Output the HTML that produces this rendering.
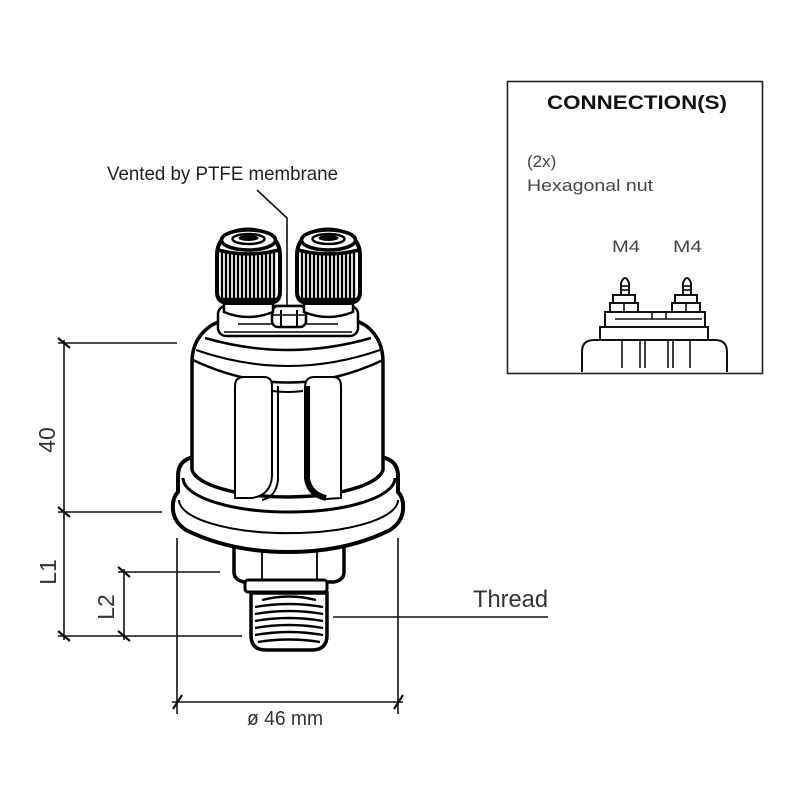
<!DOCTYPE html>
<html><head><meta charset="utf-8"><style>
html,body{margin:0;padding:0;background:#fff;}
svg{display:block;}
text{font-family:"Liberation Sans",Arial,sans-serif;}
</style></head><body>
<svg width="800" height="800" viewBox="0 0 800 800" xmlns="http://www.w3.org/2000/svg">
<rect width="800" height="800" fill="#fff"/>

<!-- Vented label -->
<text x="107" y="180" font-size="19" fill="#222" textLength="231" lengthAdjust="spacingAndGlyphs">Vented by PTFE membrane</text>

<!-- dimension lines -->
<g stroke="#111" stroke-width="1.6" fill="none">
  <line x1="64" y1="340" x2="64" y2="640"/>
  <line x1="58" y1="343" x2="177" y2="343"/>
  <line x1="58" y1="512" x2="162" y2="512"/>
  <line x1="58" y1="636" x2="242" y2="636"/>
  <line x1="124" y1="569" x2="124" y2="640"/>
  <line x1="118" y1="572" x2="220" y2="572"/>
  <line x1="177" y1="538" x2="177" y2="714"/>
  <line x1="398" y1="538" x2="398" y2="714"/>
  <line x1="172" y1="702" x2="403" y2="702"/>
  <line x1="333" y1="617" x2="548" y2="617"/>
</g>
<g stroke="#111" stroke-width="2.2">
  <line x1="58" y1="338" x2="70" y2="348"/>
  <line x1="58" y1="507" x2="70" y2="517"/>
  <line x1="58" y1="631" x2="70" y2="641"/>
  <line x1="118" y1="567" x2="130" y2="577"/>
  <line x1="118" y1="631" x2="130" y2="641"/>
  <line x1="173" y1="709" x2="182" y2="695"/>
  <line x1="394" y1="709" x2="403" y2="695"/>
</g>
<g fill="#333" font-size="23">
  <text transform="translate(55,440) rotate(-90)" text-anchor="middle">40</text>
  <text transform="translate(56,572) rotate(-90)" text-anchor="middle">L1</text>
  <text transform="translate(114,607) rotate(-90)" text-anchor="middle">L2</text>
</g>
<text x="473" y="607" font-size="24" fill="#333" textLength="75" lengthAdjust="spacingAndGlyphs">Thread</text>
<text x="247" y="725" font-size="20" fill="#333" textLength="76" lengthAdjust="spacingAndGlyphs">ø 46 mm</text>

<!-- hex -->
<path d="M234,535 L234,572 Q234,580 244,582 L334,582 Q344,580 344,572 L344,535" fill="#fff" stroke="#000" stroke-width="3.5"/>
<line x1="262" y1="540" x2="262" y2="580" stroke="#000" stroke-width="1.8"/>
<line x1="317" y1="540" x2="317" y2="580" stroke="#000" stroke-width="1.8"/>
<!-- thread -->
<path d="M251,593 L251,635 Q251,650 266,650 L312,650 Q327,650 327,635 L327,593 Z" fill="#fff" stroke="#000" stroke-width="3.5"/>
<g stroke="#000" stroke-width="2.4" fill="none">
  <path d="M262,600 Q289,593 316,600"/>
  <path d="M255,607 Q289,601 323,607"/>
  <path d="M255,614 Q289,608 323,614"/>
  <path d="M255,621 Q289,615 323,621"/>
  <path d="M255,628 Q289,622 323,628"/>
  <path d="M255,635 Q289,629 323,635"/>
  <path d="M258,642 Q289,637 320,642"/>
</g>
<!-- neck -->
<rect x="245" y="580" width="82" height="12" rx="3" fill="#fff" stroke="#000" stroke-width="3"/>

<!-- flange -->
<path d="M190,458 Q178,462 178,476 L178,492 Q172,498 173,510 Q174,522 186,530 Q230,552 288,552 Q346,552 390,530 Q402,522 403,510 Q404,498 398,492 L398,476 Q398,462 385,458 Z" fill="#fff" stroke="#000" stroke-width="4"/>
<path d="M183,478 A106,34 0 0 0 395,478" fill="none" stroke="#000" stroke-width="3"/>
<path d="M179,500 A109,33 0 0 0 398,500" fill="none" stroke="#000" stroke-width="2"/>

<!-- body -->
<path d="M192,470 L192,362 Q192,338 212,325 L222,320 L355,320 L365,325 Q383,338 383,362 L383,470 A96,30 0 0 1 192,470 Z" fill="#fff" stroke="#000" stroke-width="3.5"/>
<g fill="none" stroke="#000">
  <path d="M205,338 Q288,362 371,338" stroke-width="2.5"/>
  <path d="M196,350 Q288,382 380,350" stroke-width="2"/>
  <path d="M193,360 Q288,405 383,360" stroke-width="2.5"/>
  <path d="M272,391 Q288,393 303,391" stroke-width="2"/>
</g>
<!-- ribs -->
<path d="M235,498 L235,386 Q235,377 244,377 L264,377 Q272,377 272,386 L272,476 Q271,495 252,498 Z" fill="#fff" stroke="#000" stroke-width="2"/>
<path d="M278,386 L278,480 Q276,497 262,500" fill="none" stroke="#000" stroke-width="2"/>
<path d="M341,498 L341,386 Q341,377 333,377 L314,377 Q305,377 305,388 L305,478 Q307,496 326,499 Z" fill="#fff" stroke="#000" stroke-width="2"/>
<path d="M307,386 L307,478 Q309,494 326,498" fill="none" stroke="#000" stroke-width="6"/>

<!-- plateau -->
<rect x="218" y="306" width="140" height="30" rx="8" fill="#fff" stroke="#000" stroke-width="2.5"/>
<line x1="238" y1="324" x2="338" y2="324" stroke="#000" stroke-width="1.6"/>
<line x1="224" y1="332" x2="352" y2="332" stroke="#000" stroke-width="1.6"/>

<!-- center nut -->
<rect x="272" y="306" width="34" height="21" rx="6" fill="#fff" stroke="#000" stroke-width="2.5"/>
<line x1="281" y1="310" x2="281" y2="326" stroke="#000" stroke-width="2"/>
<line x1="297" y1="310" x2="297" y2="326" stroke="#000" stroke-width="2"/>
<line x1="273" y1="315" x2="305" y2="315" stroke="#000" stroke-width="1.5"/>

<!-- knobs -->
<g id="knobL">
  <path d="M224,300 L224,312 Q248,322 273,312 L273,300" fill="#fff" stroke="#000" stroke-width="2.5"/>
  <path d="M217,255 Q217,240 230,233 Q248,226 266,233 Q280,240 280,255 L280,292 Q280,302 270,303 L227,303 Q217,302 217,292 Z" fill="#fff" stroke="#000" stroke-width="4"/>
  <g stroke="#000" stroke-width="2.3">
    <line x1="222" y1="252" x2="222" y2="298"/><line x1="226" y1="252" x2="226" y2="298"/>
    <line x1="230" y1="252" x2="230" y2="298"/><line x1="234" y1="252" x2="234" y2="298"/>
    <line x1="238" y1="252" x2="238" y2="298"/><line x1="242" y1="252" x2="242" y2="298"/>
    <line x1="246" y1="252" x2="246" y2="298"/><line x1="250" y1="252" x2="250" y2="298"/>
    <line x1="254" y1="252" x2="254" y2="298"/><line x1="258" y1="252" x2="258" y2="298"/>
    <line x1="262" y1="252" x2="262" y2="298"/><line x1="266" y1="252" x2="266" y2="298"/>
    <line x1="270" y1="252" x2="270" y2="298"/><line x1="274" y1="252" x2="274" y2="298"/>
  </g>
  <path d="M218,250 Q248,258 279,250" fill="none" stroke="#000" stroke-width="3.5"/>
  <ellipse cx="248.5" cy="240" rx="27" ry="10" fill="#fff" stroke="#000" stroke-width="3.5"/>
  <ellipse cx="248.5" cy="239" rx="16" ry="5" fill="none" stroke="#000" stroke-width="2.5"/>
  <ellipse cx="248.5" cy="238" rx="10" ry="3" fill="#000"/>
  <line x1="219" y1="300" x2="278" y2="300" stroke="#000" stroke-width="4.5"/>
</g>
<use href="#knobL" transform="translate(80,0)"/>

<!-- leader -->
<path d="M257,190 L287,218 L287,305" fill="none" stroke="#111" stroke-width="1.6"/>

<!-- connection box -->
<rect x="507.5" y="81.5" width="255" height="292" fill="#fff" stroke="#222" stroke-width="1.6"/>
<text x="547" y="109" font-size="19" font-weight="bold" fill="#111" textLength="180" lengthAdjust="spacingAndGlyphs">CONNECTION(S)</text>
<text x="527" y="167" font-size="17" fill="#444">(2x)</text>
<text x="527" y="191" font-size="17" fill="#444" textLength="126" lengthAdjust="spacingAndGlyphs">Hexagonal nut</text>
<text x="612" y="252" font-size="17" fill="#444" textLength="28" lengthAdjust="spacingAndGlyphs">M4</text>
<text x="673" y="252" font-size="17" fill="#444" textLength="29" lengthAdjust="spacingAndGlyphs">M4</text>

<g fill="#fff" stroke="#111" stroke-width="2">
  <path d="M582,372 L582,352 Q582,340 594,340 L715,340 Q727,340 727,352 L727,372"/>
  <rect x="600" y="327" width="108" height="13"/>
  <rect x="605" y="312" width="100" height="15"/>
  <!-- left stud -->
  <path d="M621,296 L621,283 Q625,273 629,283 L629,296 Z"/>
  <rect x="613" y="295" width="22" height="8"/>
  <rect x="610" y="303" width="28" height="9"/>
  <!-- right stud -->
  <path d="M683,296 L683,283 Q687,273 691,283 L691,296 Z"/>
  <rect x="675" y="295" width="22" height="8"/>
  <rect x="672" y="303" width="28" height="9"/>
</g>
<g stroke="#111" stroke-width="1.6">
  <line x1="615" y1="319" x2="702" y2="319"/>
  <line x1="652" y1="312" x2="652" y2="319"/>
  <line x1="666" y1="312" x2="666" y2="319"/>
  <line x1="622" y1="286" x2="628" y2="286"/><line x1="622" y1="290" x2="628" y2="290"/>
  <line x1="684" y1="286" x2="690" y2="286"/><line x1="684" y1="290" x2="690" y2="290"/>
  <line x1="624" y1="303" x2="624" y2="312"/>
  <line x1="686" y1="303" x2="686" y2="312"/>
  <line x1="622" y1="341" x2="622" y2="368"/>
  <line x1="640" y1="341" x2="640" y2="368"/>
  <line x1="645" y1="341" x2="645" y2="368"/>
  <line x1="668" y1="341" x2="668" y2="368"/>
  <line x1="673" y1="341" x2="673" y2="368"/>
  <line x1="690" y1="341" x2="690" y2="368"/>
</g>
</svg>
</body></html>
